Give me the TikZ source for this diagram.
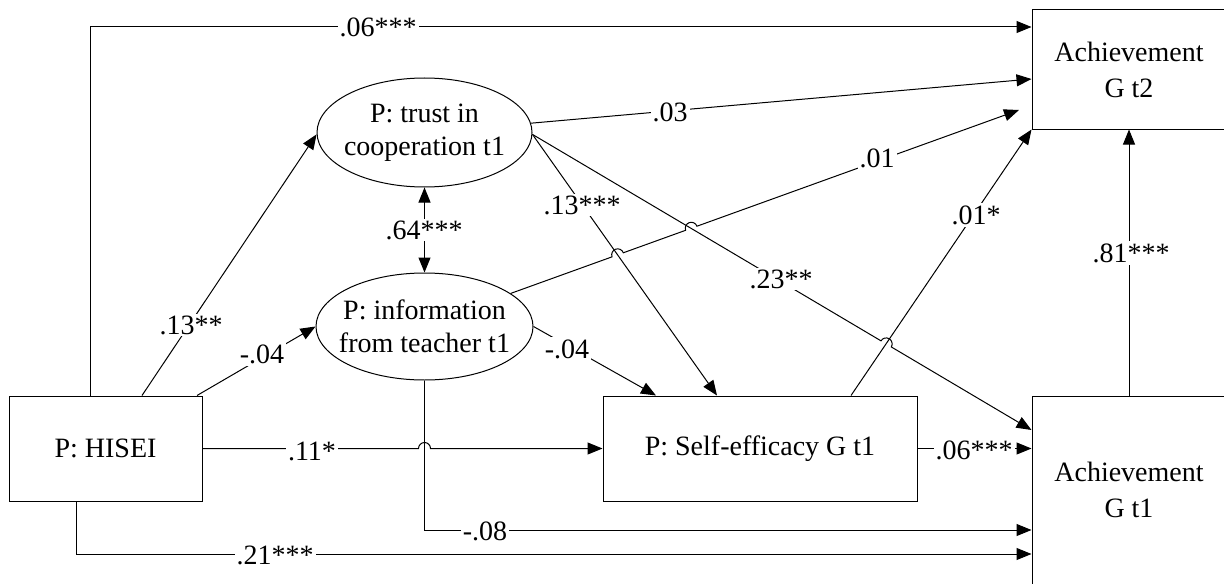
\documentclass[tikz,border=0pt]{standalone}
\usepackage{fontspec}
\setmainfont{Liberation Serif}
\usetikzlibrary{arrows.meta,calc,shapes.geometric}

\tikzset{
    box/.style={draw, rectangle, align=center, inner sep=0pt},
    latent/.style={draw, ellipse, align=center, inner xsep=-5pt, inner ysep=0pt,
        minimum width=107.5pt, minimum height=54.5pt, font=\fontsize{14}{16.5}\selectfont},
    lbl/.style={fill=white, inner sep=1pt},
    arr/.style={-{Triangle[length=7.5pt,width=6pt]}},
}

\begin{document}
\begin{tikzpicture}[x=0.5pt, y=-0.5pt, line width=0.5pt, font=\fontsize{14}{18}\selectfont]

    \useasboundingbox (0,0) rectangle (1224,583);
    \clip (0,0) rectangle (1224,583);

    % observed variables and latent factors
    \node[box, minimum width=96.5pt, minimum height=52.5pt] (hisei) at (105.5,448.5) {P: HISEI};
    \node[box, minimum width=157pt, minimum height=52.5pt] (seff) at (760,448.5) {P: Self-efficacy G t1};
    \node[box, minimum width=97pt, minimum height=59.5pt] (t2box) at (1129,69.5) {Achievement\\G t2};
    \node[box, minimum width=97pt, minimum height=94pt] (t1box) at (1129,490) {Achievement\\G t1};
    \node[latent] (trust) at (424.5,132.5) {P: trust in\\cooperation t1};
    \node[latent, minimum width=108.5pt, minimum height=53.5pt] (info) at (424.5,326.5) {P: information\\from teacher t1};

    % paths from HISEI
    \draw[arr] (hisei.north -| 90,0) |- (t2box.west |- 0,27);
    \draw[arr] (hisei.north -| 142,0) -- (trust.181);
    \draw[arr] (hisei.north -| 197,0) -- (info.west);
    \coordinate (x11) at (info.south |- hisei.east);
    \draw[arr] (hisei.east) -- ([xshift=-3pt]x11) arc[start angle=180, end angle=360, radius=6] -- (seff.west);
    \draw[arr] (hisei.south -| 76,0) |- (t1box.west |- 0,554);

    % paths from the two factors
    \draw[{Triangle[length=7.5pt,width=6pt]}-{Triangle[length=7.5pt,width=6pt]}] (trust.south) -- (info.north);
    \draw[arr] (trust.5) -- (t2box.west |- 0,79);
    \draw[arr] (trust.-1) -- (seff.north -| 717,0);
    \coordinate (e23) at (t1box.west |- 0,430);
    \draw[arr] (trust.-1) -- ($(trust.-1)!0.6984!(e23)$)
        arc[start angle=210.59, end angle=390.59, radius=6] -- (e23);
    \coordinate (e01) at (1019,110);
    \draw[arr] (info.21) -- ($(info.21)!0.1994!(e01)$)
        arc[start angle=160.17, end angle=340.17, radius=6] -- ($(info.21)!0.3442!(e01)$)
        arc[start angle=160.17, end angle=340.17, radius=6] -- (e01);
    \draw[arr] (info.east) -- (seff.north -| 656,0);
    \draw[arr] (info.south) |- (t1box.west |- 0,530);

    % self-efficacy and achievement
    \draw[arr] (seff.north -| 851,0) -- (t2box.south west);
    \draw[arr] (seff.east) -- (seff.east -| t1box.west);
    \draw[arr] (t1box.north) -- (t2box.south);

    % coefficients
    \node[lbl] (l1) at (378,27) {.06***};
    \node[lbl] (l2) at (670,112) {.03};
    \node[lbl] (l3) at (877,158) {.01};
    \node[lbl] (l4) at (976,215) {.01*};
    \node[lbl] (l5) at (191,325) {.13**};
    \node[lbl] (l6) at (262,354) {-.04};
    \node[lbl] (l7) at (424,230) {.64***};
    \node[lbl] (l8) at (582,205) {.13***};
    \node[lbl] (l9) at (781,279) {.23**};
    \node[lbl] (l10) at (567,349) {-.04};
    \node[lbl] (l11) at (312,451) {.11*};
    \node[lbl] (l12) at (485,531) {-.08};
    \node[lbl] (l13) at (275,555) {.21***};
    \node[lbl] (l14) at (974,450) {.06***};
    \node[lbl] (l15) at (1131,253) {.81***};

\end{tikzpicture}
\end{document}
